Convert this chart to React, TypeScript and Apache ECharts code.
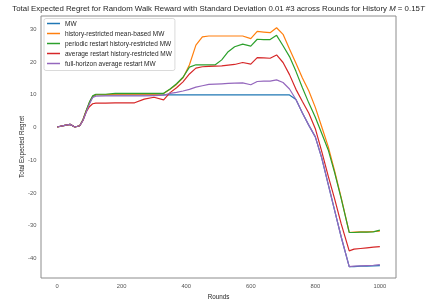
import React, { useEffect, useRef } from "react";
import * as echarts from "echarts";

const rounds = [
  0, 20, 40, 55, 70, 80, 90, 100, 110, 120,
  150, 180, 210, 240, 270, 300, 330, 350, 370, 390,
  410, 430, 450, 470, 490, 510, 530, 550, 575, 600,
  620, 640, 660, 680, 700, 720, 740, 760, 780, 800,
  820, 840, 860, 880, 905, 920, 940, 960, 980, 1000,
];

const mw = [
  0, 0.4, 0.8, 0, 0.4, 2.1, 4.8, 7.3, 9.2, 9.8,
  9.8, 9.8, 9.8, 9.8, 9.8, 9.8, 9.8, 9.8, 9.8, 9.8,
  9.8, 9.8, 9.8, 9.8, 9.8, 9.8, 9.8, 9.8, 9.8, 9.8,
  9.8, 9.8, 9.8, 9.8, 9.8, 9.8, 8.4, 4.3, 0.5, -3,
  -9.5, -17.5, -25.5, -33.5, -42.6, -42.6, -42.5, -42.5, -42.4, -42.3,
];

const historyMean = [
  0, 0.4, 0.8, 0, 0.4, 2.2, 5, 7.5, 9.4, 9.9,
  9.9, 10, 10, 10, 10, 10, 10.2, 11.5, 13, 15,
  19, 25, 27.5, 27.8, 27.8, 27.8, 27.8, 27.8, 27.8, 27.0,
  29.2, 29.0, 28.8, 30.3, 28.3, 23.8, 19.5, 15, 11, 6,
  0, -6, -13.5, -21.5, -32.2, -32.1, -32.0, -32.0, -31.9, -31.8,
];

const periodicRestart = [
  0, 0.4, 0.8, 0, 0.4, 2.2, 5, 7.6, 9.5, 10,
  10, 10.3, 10.3, 10.3, 10.3, 10.3, 10.3, 11.6, 13.2, 15.2,
  18.3, 19, 19, 19, 19, 20.5, 23, 24.5, 25.3, 24.7,
  26.8, 26.7, 26.7, 28, 24.8, 21.5, 17, 12, 7.3, 3,
  -2, -7, -14, -21.8, -32.2, -32.2, -32.1, -32.1, -32.0, -31.5,
];

const averageRestart = [
  0, 0.4, 0.8, 0, 0.4, 2.0, 4.6, 6.2, 7.1, 7.3,
  7.3, 7.4, 7.4, 7.4, 8.5, 9.1, 8.3, 10.5, 12, 13.8,
  16.2, 18, 18.4, 18.5, 18.6, 18.7, 18.9, 19.1, 19.7, 19.2,
  21.2, 21.1, 21.0, 22.0, 19.7, 16, 11.5, 7.8, 4.2, -0.5,
  -7.5, -15, -22, -29.5, -37.8, -37.3, -37.1, -36.9, -36.7, -36.5,
];

const fullHorizon = [
  0, 0.4, 0.8, 0, 0.4, 2.0, 4.5, 7.0, 9.0, 9.4,
  9.5, 9.5, 9.5, 9.5, 9.5, 9.6, 9.7, 10.3, 10.6, 11,
  11.5, 12.2, 12.6, 13, 13.1, 13.2, 13.3, 13.4, 13.5, 12.9,
  13.9, 14.0, 14.0, 14.4, 13.6, 11.6, 8.4, 4.3, 0.5, -3,
  -9.5, -17.5, -25.5, -33.5, -42.6, -42.5, -42.4, -42.3, -42.2, -42.0,
];

const seriesNames = [
  "MW",
  "history-restricted mean-based MW",
  "periodic restart history-restricted MW",
  "average restart history-restricted MW",
  "full-horizon average restart MW",
];
const seriesColors = ["#1f77b4", "#ff7f0e", "#2ca02c", "#d62728", "#9467bd"];
const xTicks = [0, 200, 400, 600, 800, 1000];
const yTicks = [-40, -30, -20, -10, 0, 10, 20, 30];

export default function App() {
  const ref = useRef<HTMLDivElement>(null);
  useEffect(() => {
    const chart = echarts.init(ref.current!, undefined, { renderer: "svg" });
    const font = "'Liberation Sans', Arial, sans-serif";
    const values = [mw, historyMean, periodicRestart, averageRestart, fullHorizon];
    chart.setOption({
      animation: false,
      title: {
        text: "Total Expected Regret for Random Walk Reward with Standard Deviation 0.01 #3 across Rounds for History {i|M} = 0.15{i|T}",
        left: 218.5,
        textAlign: "center",
        top: 4,
        padding: 0,
        textStyle: {
          fontSize: 7.85,
          fontWeight: "normal",
          color: "#262626",
          fontFamily: font,
          rich: {
            i: { fontSize: 7.85, fontStyle: "italic", color: "#262626", fontFamily: font },
          },
        },
      },
      grid: {
        left: 41,
        right: 45,
        top: 16,
        bottom: 22,
        show: true,
        borderColor: "#8c8c8c",
        borderWidth: 1,
        backgroundColor: "transparent",
      },
      legend: {
        orient: "vertical",
        left: 44,
        top: 18.5,
        icon: "rect",
        itemWidth: 13,
        itemHeight: 1.5,
        itemGap: 2,
        padding: [1, 3, 3, 3],
        backgroundColor: "#ffffff",
        borderColor: "#d0d0d0",
        borderWidth: 0.8,
        borderRadius: 2,
        textStyle: { fontSize: 6.5, lineHeight: 8, color: "#262626", fontFamily: font },
        data: seriesNames,
      },
      xAxis: {
        type: "value",
        min: -50,
        max: 1050,
        axisLine: { show: false },
        axisTick: { show: false },
        splitLine: { show: false },
        axisLabel: {
          customValues: xTicks,
          formatter: (v: number) => String(v),
          fontSize: 5.8,
          color: "#555",
          margin: 5,
          fontFamily: font,
        },
        name: "Rounds",
        nameLocation: "middle",
        nameGap: 15,
        nameMoveOverlap: false,
        nameTextStyle: { fontSize: 6.3, color: "#262626", fontFamily: font },
      },
      yAxis: {
        type: "value",
        min: -46.1,
        max: 33.9,
        axisLine: { show: false },
        axisTick: { show: false },
        splitLine: { show: false },
        axisLabel: {
          customValues: yTicks,
          formatter: (v: number) => String(v),
          fontSize: 5.8,
          color: "#555",
          margin: 4.5,
          fontFamily: font,
        },
        name: "Total Expected Regret",
        nameLocation: "middle",
        nameGap: 17,
        nameMoveOverlap: false,
        nameTextStyle: { fontSize: 6.3, color: "#262626", fontFamily: font },
      },
      series: seriesNames.map((n, i) => ({
        type: "line",
        name: n,
        data: rounds.map((r, j) => [r, values[i][j]]),
        symbol: "none",
        showSymbol: false,
        lineStyle: { width: 1.2, color: seriesColors[i] },
        itemStyle: { color: seriesColors[i] },
      })),
    });
    return () => chart.dispose();
  }, []);
  return <div ref={ref} style={{ position: "fixed", left: 0, top: 0, width: 441, height: 304 }} />;
}
